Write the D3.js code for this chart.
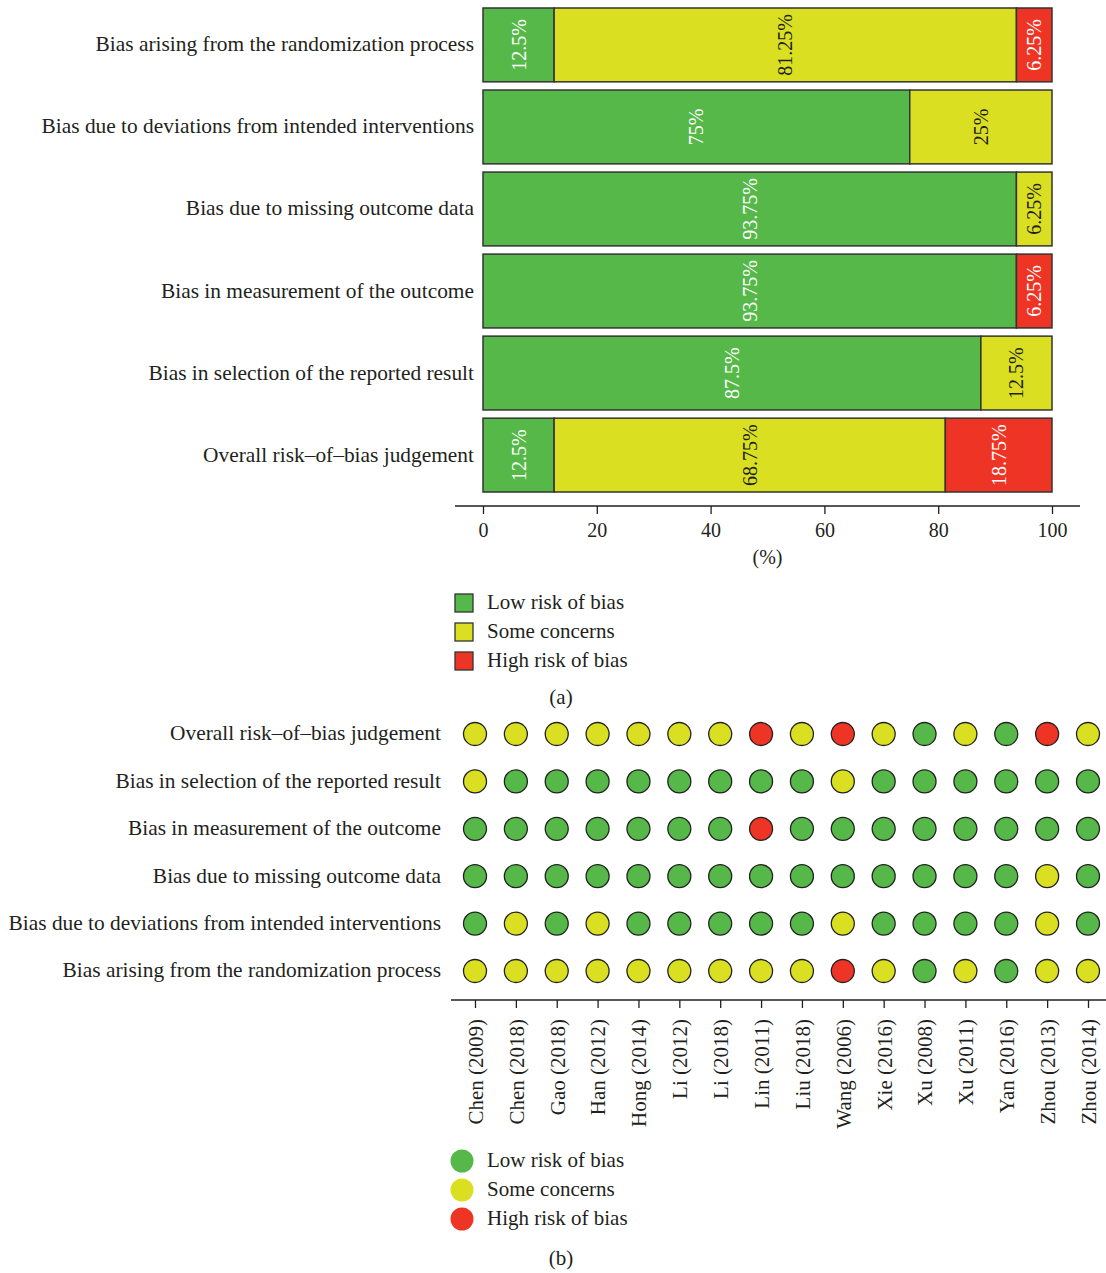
<!DOCTYPE html>
<html>
<head>
<meta charset="utf-8">
<script src="https://cdn.jsdelivr.net/npm/d3@7"></script>
<style>
  html, body { margin: 0; padding: 0; background: #fff; }
  svg { display: block; font-family: "Liberation Serif", "DejaVu Serif", serif; }
</style>
</head>
<body>
<svg id="chart" width="1106" height="1273"></svg>
<script>
// Risk-of-bias domains (summary bars, top to bottom)
const domains = [
  "Bias arising from the randomization process",
  "Bias due to deviations from intended interventions",
  "Bias due to missing outcome data",
  "Bias in measurement of the outcome",
  "Bias in selection of the reported result",
  "Overall risk\u2013of\u2013bias judgement"
];
const lowPct  = [12.5, 75, 93.75, 93.75, 87.5, 12.5];
const somePct = [81.25, 25, 6.25, 0, 12.5, 68.75];
const highPct = [6.25, 0, 0, 6.25, 0, 18.75];
const xTicks = [0, 20, 40, 60, 80, 100];

const levels = ["Low risk of bias", "Some concerns", "High risk of bias"];
const levelColors = ["#55b848", "#dae021", "#ee3424"];
const levelTextColors = ["#ffffff", "#231f20", "#ffffff"];

// Per-study judgements (L = low, S = some concerns, H = high)
const studies = ["Chen (2009)", "Chen (2018)", "Gao (2018)", "Han (2012)", "Hong (2014)",
  "Li (2012)", "Li (2018)", "Lin (2011)", "Liu (2018)", "Wang (2006)", "Xie (2016)",
  "Xu (2008)", "Xu (2011)", "Yan (2016)", "Zhou (2013)", "Zhou (2014)"];
const dotRows = [
  "Overall risk\u2013of\u2013bias judgement",
  "Bias in selection of the reported result",
  "Bias in measurement of the outcome",
  "Bias due to missing outcome data",
  "Bias due to deviations from intended interventions",
  "Bias arising from the randomization process"
];
const overallJ     = ["S","S","S","S","S","S","S","H","S","H","S","L","S","L","H","S"];
const selectionJ   = ["S","L","L","L","L","L","L","L","L","S","L","L","L","L","L","L"];
const measurementJ = ["L","L","L","L","L","L","L","H","L","L","L","L","L","L","L","L"];
const missingJ     = ["L","L","L","L","L","L","L","L","L","L","L","L","L","L","S","L"];
const deviationsJ  = ["L","S","L","S","L","L","L","L","L","S","L","L","L","L","S","L"];
const randomJ      = ["S","S","S","S","S","S","S","S","S","H","S","L","S","L","S","S"];
const judgements = [overallJ, selectionJ, measurementJ, missingJ, deviationsJ, randomJ];
const codeIndex = { L: 0, S: 1, H: 2 };

const svg = d3.select("#chart");
const ink = "#231f20";
const fontSize = 21;
const rowFont = 21.4;
const serif = "Liberation Serif, DejaVu Serif, serif";

// ---------- Panel (a): stacked summary bars ----------
const x = d3.scaleLinear().domain([0, 100]).range([483, 1052]);
const y = d3.scaleBand().domain(domains).range([8, 492]).paddingInner(0.1).paddingOuter(0.0);

const stacks = domains.map((d, i) => {
  const vals = [lowPct[i], somePct[i], highPct[i]];
  let acc = 0;
  return vals.map((v, k) => { const s = { domain: d, level: k, x0: acc, x1: acc + v, v }; acc += v; return s; })
             .filter(s => s.v > 0);
}).flat();

const gA = svg.append("g");
gA.selectAll("rect.seg").data(stacks).join("rect")
  .attr("class", "seg")
  .attr("x", d => x(d.x0))
  .attr("y", d => y(d.domain))
  .attr("width", d => x(d.x1) - x(d.x0))
  .attr("height", y.bandwidth())
  .attr("fill", d => levelColors[d.level])
  .attr("stroke", "#333")
  .attr("stroke-width", 1.5);

gA.selectAll("text.val").data(stacks).join("text")
  .attr("class", "val")
  .attr("transform", d => `translate(${(x(d.x0) + x(d.x1)) / 2},${y(d.domain) + y.bandwidth() / 2}) rotate(-90)`)
  .attr("text-anchor", "middle")
  .attr("dy", "0.35em")
  .attr("font-size", 20)
  .attr("fill", d => levelTextColors[d.level])
  .text(d => d.v + "%");

gA.selectAll("text.dom").data(domains).join("text")
  .attr("class", "dom")
  .attr("x", 474)
  .attr("y", d => y(d) + y.bandwidth() / 2 - 1)
  .attr("dy", "0.35em")
  .attr("text-anchor", "end")
  .attr("font-size", rowFont)
  .attr("fill", ink)
  .text(d => d);

// x axis
const axisY = 506;
const axA = svg.append("g").attr("transform", `translate(0,${axisY})`)
  .call(d3.axisBottom(x).tickValues(xTicks).tickSize(8).tickPadding(9).tickSizeOuter(0));
axA.select(".domain").remove();
axA.selectAll(".tick line").attr("stroke", ink).attr("stroke-width", 1.3);
axA.selectAll(".tick text").attr("font-size", 20).attr("fill", ink).attr("font-family", serif);
axA.append("line").attr("x1", 455).attr("x2", 1080).attr("y1", 0).attr("y2", 0)
  .attr("stroke", ink).attr("stroke-width", 1.5);
svg.append("text").attr("x", x(50)).attr("y", 564).attr("text-anchor", "middle")
  .attr("font-size", 20).attr("fill", ink).text("(%)");

// legend (a)
const legA = svg.append("g").attr("transform", "translate(455,594)");
levels.forEach((lab, i) => {
  legA.append("rect").attr("x", 0).attr("y", i * 29).attr("width", 18).attr("height", 18)
    .attr("fill", levelColors[i]).attr("stroke", "#333").attr("stroke-width", 1.3);
  legA.append("text").attr("x", 32).attr("y", i * 29 + 8).attr("dy", "0.35em")
    .attr("font-size", fontSize).attr("fill", ink).text(lab);
});
svg.append("text").attr("x", 561).attr("y", 704).attr("text-anchor", "middle")
  .attr("font-size", fontSize).attr("fill", ink).text("(a)");

// ---------- Panel (b): traffic-light plot ----------
const xs = d3.scalePoint().domain(studies).range([475, 1088]);
const ys = d3.scalePoint().domain(dotRows).range([734, 971]);

const cells = dotRows.map((r, i) => studies.map((s, j) => ({ row: r, study: s, level: codeIndex[judgements[i][j]] }))).flat();

const gB = svg.append("g");
gB.selectAll("circle.cell").data(cells).join("circle")
  .attr("class", "cell")
  .attr("cx", d => xs(d.study))
  .attr("cy", d => ys(d.row))
  .attr("r", 11.5)
  .attr("fill", d => levelColors[d.level])
  .attr("stroke", "#222")
  .attr("stroke-width", 1.3);

gB.selectAll("text.row").data(dotRows).join("text")
  .attr("class", "row")
  .attr("x", 441)
  .attr("y", d => ys(d) - 1)
  .attr("dy", "0.35em")
  .attr("text-anchor", "end")
  .attr("font-size", rowFont)
  .attr("fill", ink)
  .text(d => d);

const axB = svg.append("g").attr("transform", "translate(0,1000)")
  .call(d3.axisBottom(xs).tickSize(8).tickSizeOuter(0));
axB.select(".domain").remove();
axB.selectAll(".tick line").attr("stroke", ink).attr("stroke-width", 1.3);
axB.selectAll(".tick text")
  .attr("font-size", fontSize).attr("fill", ink)
  .attr("font-family", serif)
  .attr("transform", "rotate(-90)")
  .attr("text-anchor", "end")
  .attr("x", -19).attr("y", 0).attr("dy", "0.35em");
axB.append("line").attr("x1", 451).attr("x2", 1106).attr("y1", 0).attr("y2", 0)
  .attr("stroke", ink).attr("stroke-width", 1.5);

// legend (b)
const legB = svg.append("g").attr("transform", "translate(462,1161)");
levels.forEach((lab, i) => {
  legB.append("circle").attr("cx", 0).attr("cy", i * 29).attr("r", 11.5).attr("fill", levelColors[i]);
  legB.append("text").attr("x", 25).attr("y", i * 29 - 1).attr("dy", "0.35em")
    .attr("font-size", fontSize).attr("fill", ink).text(lab);
});
svg.append("text").attr("x", 561).attr("y", 1265).attr("text-anchor", "middle")
  .attr("font-size", fontSize).attr("fill", ink).text("(b)");
</script>
</body>
</html>
